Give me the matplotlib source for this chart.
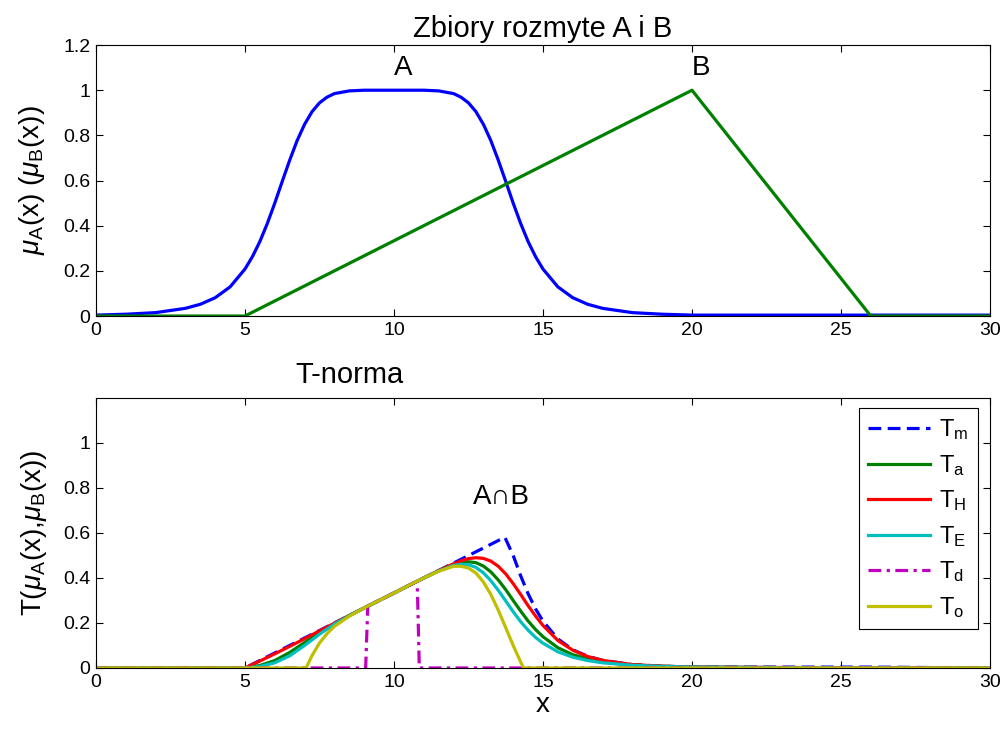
import matplotlib
matplotlib.use("Agg")
import matplotlib.pyplot as plt
import matplotlib.ticker as mticker

plt.rcParams["font.family"] = ["Liberation Sans", "DejaVu Sans"]
plt.rcParams["mathtext.fontset"] = "custom"
plt.rcParams["mathtext.rm"] = "Liberation Sans"
plt.rcParams["mathtext.it"] = "Liberation Sans:italic"

# ---------------------------------------------------------------------------
# Fuzzy sets A (bell shaped) and B (triangle)
# ---------------------------------------------------------------------------
x_a = [0, 1, 2, 3, 3.5, 4, 4.5, 5, 5.25, 5.5, 5.75, 6, 6.25, 6.5, 6.75, 7, 7.25,
       7.5, 7.75, 8, 8.5, 9, 10, 11, 11.5, 12, 12.25, 12.5, 12.75, 13, 13.25,
       13.5, 13.75, 14, 14.25, 14.5, 14.75, 15, 15.5, 16, 16.5, 17, 18, 19, 20,
       25, 30]
mu_a = [0.004, 0.008, 0.015, 0.034, 0.052, 0.081, 0.129, 0.208, 0.263, 0.330,
        0.410, 0.500, 0.596, 0.690, 0.777, 0.849, 0.905, 0.944, 0.969, 0.985,
        0.997, 1.000, 1.000, 1.000, 0.997, 0.985, 0.969, 0.944, 0.905, 0.849,
        0.777, 0.690, 0.596, 0.500, 0.410, 0.330, 0.263, 0.208, 0.129, 0.081,
        0.052, 0.034, 0.015, 0.008, 0.004, 0.004, 0.004]

x_b = [0, 5, 20, 26, 30]
mu_b = [0, 0, 1, 0, 0]

# ---------------------------------------------------------------------------
# T-norms of A and B
# ---------------------------------------------------------------------------
x_m = [0, 5, 13.72, 14, 14.25, 14.5, 14.75, 15, 15.5, 16, 16.5, 17, 18, 19,
       20, 26, 30]
t_min = [0, 0, 0.581, 0.500, 0.410, 0.330, 0.263, 0.208, 0.129, 0.081, 0.052,
         0.034, 0.015, 0.008, 0.004, 0.004, 0]

x_t = [0, 5, 5.5, 6, 6.5, 7, 7.5, 8, 8.5, 9, 9.5, 10, 10.5, 11, 11.5, 12,
       12.25, 12.5, 12.75, 13, 13.25, 13.5, 13.75, 14, 14.25, 14.5, 14.75, 15,
       15.5, 16, 16.5, 17, 18, 19, 20, 25, 30]
t_alg = [0, 0, 0.011, 0.033, 0.069, 0.113, 0.157, 0.197, 0.233, 0.267, 0.300,
         0.333, 0.367, 0.400, 0.432, 0.460, 0.468, 0.472, 0.468, 0.453, 0.427,
         0.391, 0.348, 0.300, 0.253, 0.209, 0.171, 0.139, 0.090, 0.059, 0.040,
         0.027, 0.013, 0.008, 0.004, 0.000, 0]
t_ham = [0, 0, 0.031, 0.063, 0.096, 0.130, 0.165, 0.199, 0.233, 0.267, 0.300,
         0.333, 0.367, 0.400, 0.433, 0.463, 0.476, 0.486, 0.490, 0.487, 0.475,
         0.452, 0.418, 0.375, 0.327, 0.277, 0.231, 0.189, 0.122, 0.079, 0.051,
         0.034, 0.015, 0.008, 0.004, 0.001, 0]
t_ein = [0, 0, 0.007, 0.023, 0.054, 0.100, 0.150, 0.195, 0.232, 0.267, 0.300,
         0.333, 0.367, 0.400, 0.431, 0.456, 0.461, 0.459, 0.447, 0.423, 0.388,
         0.345, 0.298, 0.250, 0.206, 0.168, 0.136, 0.110, 0.072, 0.048, 0.033,
         0.023, 0.012, 0.007, 0.004, 0.000, 0]

x_d = [0, 9.05, 9.12, 10.78, 10.85, 30]
t_drastic = [0, 0, 0.275, 0.385, 0, 0]

x_o = [0, 7.05, 7.25, 7.5, 7.75, 8, 8.5, 9, 9.5, 10, 10.5, 11, 11.5, 12, 12.25,
       12.5, 12.75, 13, 13.25, 13.5, 13.75, 14, 14.25, 14.35, 30]
t_luk = [0, 0, 0.055, 0.111, 0.152, 0.185, 0.230, 0.267, 0.300, 0.333, 0.367,
         0.400, 0.430, 0.452, 0.452, 0.444, 0.422, 0.382, 0.327, 0.257, 0.179,
         0.100, 0.027, 0, 0]

x_ticks = [0, 5, 10, 15, 20, 25, 30]
legend_labels = [r"T$_\mathrm{m}$", r"T$_\mathrm{a}$", r"T$_\mathrm{H}$",
                 r"T$_\mathrm{E}$", r"T$_\mathrm{d}$", r"T$_\mathrm{o}$"]

LW = 2.3
BLUE, GREEN, RED = (0, 0, 1), (0, 0.5, 0), (1, 0, 0)
CYAN, MAGENTA, OLIVE = (0, 0.75, 0.75), (0.75, 0, 0.75), (0.75, 0.75, 0)


def style_axes(ax, ymax, yticks):
    ax.set_xlim(0, 30)
    ax.set_ylim(0, ymax)
    ax.set_xticks(x_ticks)
    ax.set_yticks(yticks)
    ax.yaxis.set_major_formatter(mticker.FormatStrFormatter("%g"))
    ax.tick_params(direction="in", top=True, right=True, length=5,
                   width=0.8, labelsize=14, pad=4)
    for spine in ax.spines.values():
        spine.set_linewidth(0.8)


fig = plt.figure(figsize=(10.06, 7.29), dpi=100)
ax1 = fig.add_axes([0.0954, 0.5665, 0.8887, 0.3717])
ax2 = fig.add_axes([0.0954, 0.0837, 0.8887, 0.3704])

# top: membership functions
ax1.plot(x_a, mu_a, color=BLUE, lw=LW)
ax1.plot(x_b, mu_b, color=GREEN, lw=LW)
style_axes(ax1, 1.2, [0, 0.2, 0.4, 0.6, 0.8, 1.0, 1.2])
ax1.text(10, 1.1, "A", fontsize=20, va="center", ha="left")
ax1.text(20, 1.1, "B", fontsize=20, va="center", ha="left")
ax1.set_title("Zbiory rozmyte A i B", fontsize=21, pad=6)
ax1.set_ylabel(r"$\mu_\mathrm{A}$(x) ($\mu_\mathrm{B}$(x))", fontsize=20,
               labelpad=12)

# bottom: intersections
ax2.plot(x_m, t_min, color=BLUE, lw=LW, dashes=(4, 2), label=legend_labels[0])
ax2.plot(x_t, t_alg, color=GREEN, lw=LW, label=legend_labels[1])
ax2.plot(x_t, t_ham, color=RED, lw=LW, label=legend_labels[2])
ax2.plot(x_t, t_ein, color=CYAN, lw=LW, label=legend_labels[3])
ax2.plot(x_d, t_drastic, color=MAGENTA, lw=LW, dashes=(4, 1.7, 1, 1.7),
         label=legend_labels[4])
ax2.plot(x_o, t_luk, color=OLIVE, lw=LW, label=legend_labels[5])
style_axes(ax2, 1.2, [0, 0.2, 0.4, 0.6, 0.8, 1.0])
ax2.text(12.65, 0.76, "A\u2229B", fontsize=20, va="center", ha="left")
fig.text(349 / 1006, 1 - 375 / 729, "T-norma", fontsize=21,
         ha="center", va="center")
ax2.set_xlabel("x", fontsize=20, labelpad=1)
ax2.set_ylabel(r"T($\mu_\mathrm{A}$(x),$\mu_\mathrm{B}$(x))", fontsize=20,
               labelpad=10)

leg = ax2.legend(loc="upper right", bbox_to_anchor=(0.9866, 0.963),
                 borderaxespad=0, fontsize=17, handlelength=2.6,
                 handletextpad=0.4, labelspacing=0.45, fancybox=False,
                 framealpha=1, edgecolor="black")
leg.get_frame().set_linewidth(0.8)

fig.savefig("out.png", dpi=100)
plt.close(fig)
